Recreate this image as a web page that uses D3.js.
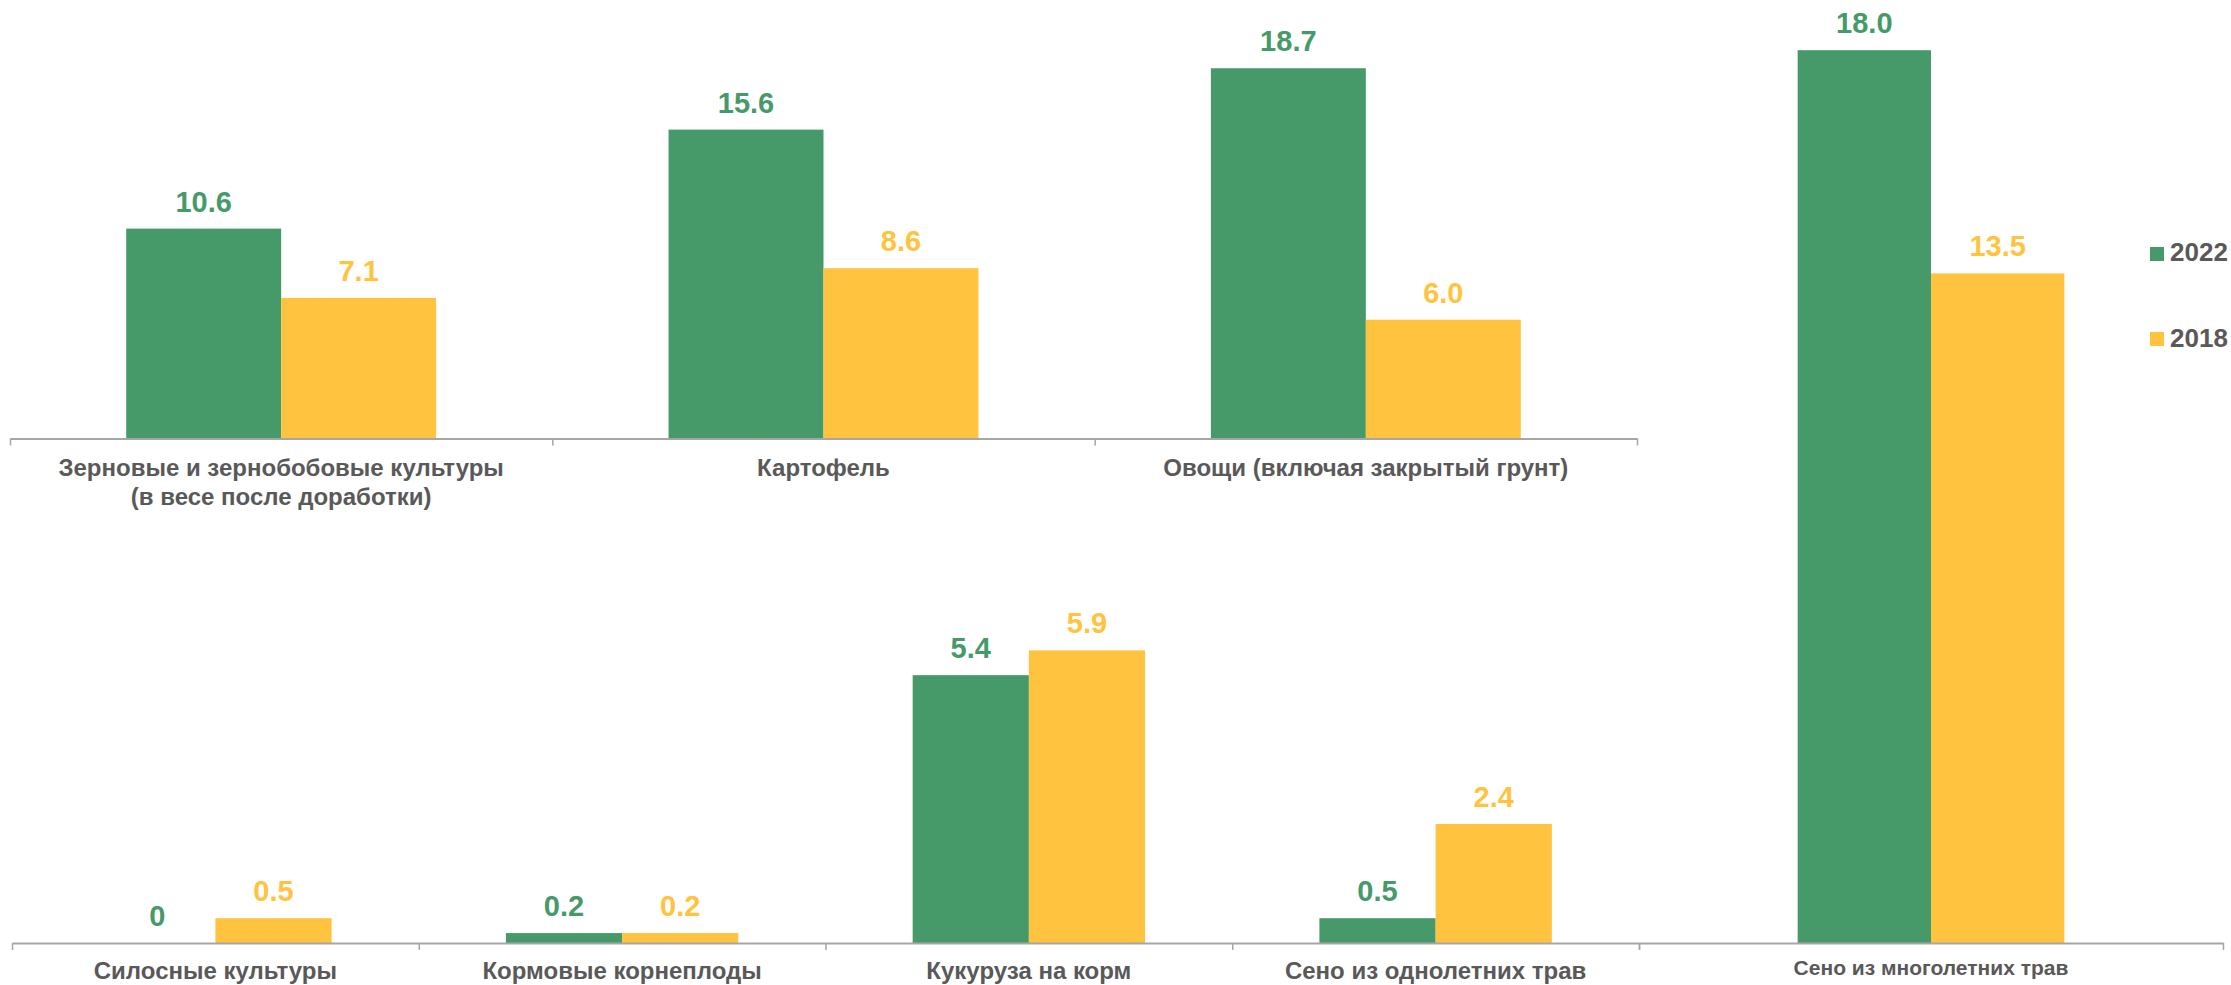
<!DOCTYPE html>
<html>
<head>
<meta charset="utf-8">
<script src="https://cdn.jsdelivr.net/npm/d3@7"></script>
<style>
  body { margin: 0; background: #fff; }
  svg { display: block; font-family: "Liberation Sans", Arial, sans-serif; }
</style>
</head>
<body>
<div id="chart"></div>
<script>
// top block (scale ~20 px per unit)
const topCategories = [["Зерновые и зернобобовые культуры", "(в весе после доработки)"], ["Картофель"], ["Овощи (включая закрытый грунт)"]]
const top2022 = [10.6, 15.6, 18.7]
const top2018 = [7.1, 8.6, 6.0]

// bottom block
const bottomCategories = [["Силосные культуры"], ["Кормовые корнеплоды"], ["Кукуруза на корм"], ["Сено из однолетних трав"]]
const bottom2022 = [0, 0.2, 5.4, 0.5]
const bottom2018 = [0.5, 0.2, 5.9, 2.4]

// big one on the right
const bigCategories = [["Сено из многолетних трав"]]
const big2022 = [18.0]
const big2018 = [13.5]

const years = ["2022", "2018"]
const colors = { "2022": "#469A6A", "2018": "#FFC340" }
const textGray = "#595959"
const axisGray = "#A6A6A6"

const svg = d3.select("#chart").append("svg")
    .attr("width", 2231)
    .attr("height", 985)

function fmt(v) {
    return v === 0 ? "0" : v.toFixed(1)
}

function panel(cats, v2022, v2018, xRange, y, outerPad, labelY, labelSize) {
    const g = svg.append("g")
    const idx = d3.range(cats.length)
    const x0 = d3.scaleBand().domain(idx).range(xRange).padding(0)
    const x1 = d3.scaleBand().domain(years).range([0, x0.bandwidth()])
        .paddingInner(0).paddingOuter(outerPad)

    const rows = idx.map(i => ({ i: i, vals: [{ k: "2022", v: v2022[i] }, { k: "2018", v: v2018[i] }] }))

    const grp = g.selectAll(".grp").data(rows).enter().append("g")
        .attr("transform", d => "translate(" + x0(d.i) + ",0)")

    grp.selectAll("rect").data(d => d.vals.filter(e => e.v > 0)).enter().append("rect")
        .attr("x", e => x1(e.k))
        .attr("width", x1.bandwidth())
        .attr("y", e => y(e.v))
        .attr("height", e => y(0) - y(e.v))
        .attr("fill", e => colors[e.k])

    grp.selectAll(".val").data(d => d.vals).enter().append("text")
        .attr("x", e => x1(e.k) + x1.bandwidth() / 2)
        .attr("y", e => y(e.v) - 17)
        .attr("text-anchor", "middle")
        .attr("font-size", 29)
        .attr("font-weight", "bold")
        .attr("fill", e => colors[e.k])
        .text(e => fmt(e.v))

    // axis with ticks on category borders
    const bx = d3.scaleLinear().domain([0, cats.length]).range(xRange)
    const ax = g.append("g")
        .attr("transform", "translate(0," + y(0) + ")")
        .call(d3.axisBottom(bx).tickValues(d3.range(cats.length + 1)).tickFormat("").tickSize(7).tickSizeOuter(0))
    ax.select(".domain").attr("stroke", axisGray).attr("stroke-width", 2)
    ax.selectAll(".tick line").attr("stroke", axisGray).attr("stroke-width", 1.5)

    const lab = g.selectAll(".cat").data(rows).enter().append("text")
        .attr("x", d => x0(d.i) + x0.bandwidth() / 2)
        .attr("y", labelY)
        .attr("text-anchor", "middle")
        .attr("font-size", labelSize)
        .attr("font-weight", "bold")
        .attr("fill", textGray)
    lab.selectAll("tspan").data(d => cats[d.i]).enter().append("tspan")
        .attr("x", function () { return d3.select(this.parentNode).attr("x") })
        .attr("dy", (t, j) => j === 0 ? 0 : 29)
        .text(t => t)
}

const yTop = d3.scaleLinear().domain([0, 22]).range([438.5, 438.5 - 22 * 19.8])
const yBottom = d3.scaleLinear().domain([0, 19]).range([943, 943 - 19 * 49.6])

panel(topCategories, top2022, top2018, [10, 1637], yTop, 0.75, 476, 24)
panel(bottomCategories, bottom2022, bottom2018, [12, 1639], yBottom, 0.75, 979, 24)
panel(bigCategories, big2022, big2018, [1639, 2223], yBottom, 1.19, 975, 21)

// legend
const leg = svg.append("g")
years.forEach(function (k, i) {
    leg.append("rect")
        .attr("x", 2150).attr("y", 247 + i * 85)
        .attr("width", 14).attr("height", 14)
        .attr("fill", colors[k])
    leg.append("text")
        .attr("x", 2170).attr("y", 261 + i * 86)
        .attr("font-size", 26)
        .attr("font-weight", "bold")
        .attr("fill", textGray)
        .text(k)
})
</script>
</body>
</html>
